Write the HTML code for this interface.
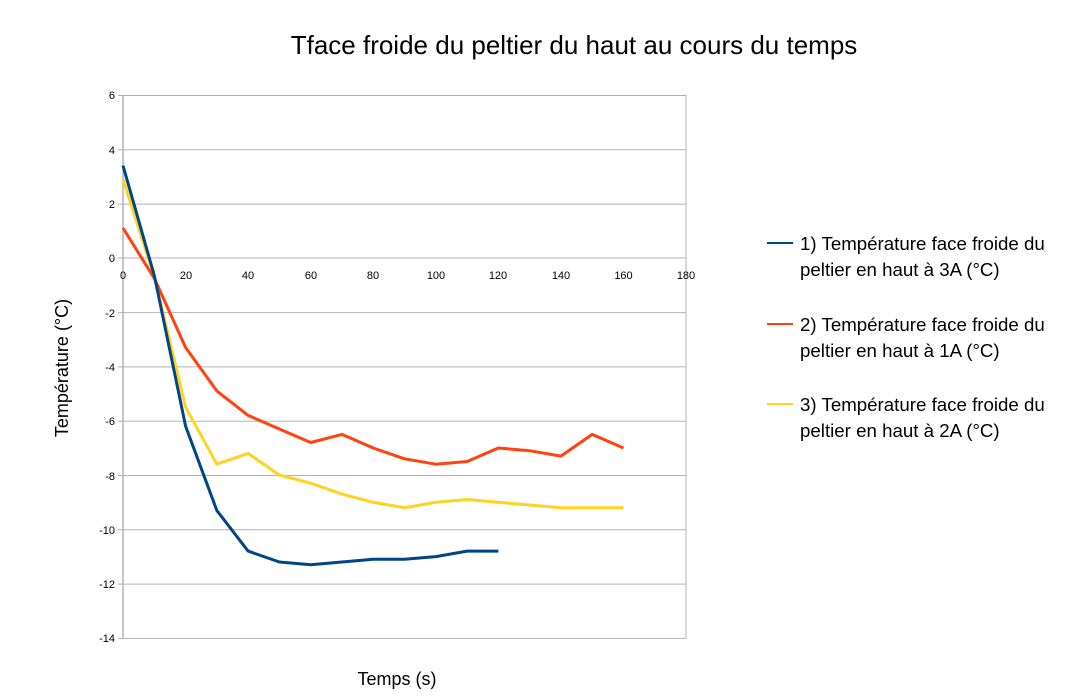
<!DOCTYPE html>
<html><head><meta charset="utf-8"><style>body{margin:0;background:#fff}svg{display:block}text{font-family:"Liberation Sans",sans-serif}</style></head>
<body>
<svg width="1085" height="700" xmlns="http://www.w3.org/2000/svg">
<rect width="1085" height="700" fill="#fff"/>
<text x="574" y="54" font-size="26" text-anchor="middle" fill="#000">Tface froide du peltier du haut au cours du temps</text>
<g stroke="#b3b3b3" stroke-width="1">
<line x1="118" y1="95.5" x2="686" y2="95.5"/>
<line x1="118" y1="149.8" x2="686" y2="149.8"/>
<line x1="118" y1="204.1" x2="686" y2="204.1"/>
<line x1="118" y1="258" x2="686" y2="258"/>
<line x1="118" y1="312.6" x2="686" y2="312.6"/>
<line x1="118" y1="366.9" x2="686" y2="366.9"/>
<line x1="118" y1="421.2" x2="686" y2="421.2"/>
<line x1="118" y1="475.5" x2="686" y2="475.5"/>
<line x1="118" y1="529.8" x2="686" y2="529.8"/>
<line x1="118" y1="584.1" x2="686" y2="584.1"/>
<line x1="118" y1="638.4" x2="686" y2="638.4"/>
<line x1="686" y1="95" x2="686" y2="638.4"/>
<line x1="123" y1="95" x2="123" y2="638.4" stroke-width="1.5"/>
</g>
<g font-size="11" text-anchor="end" fill="#000">
<text x="115" y="99">6</text><text x="115" y="154">4</text><text x="115" y="208">2</text><text x="115" y="262">0</text>
<text x="115" y="317">-2</text><text x="115" y="371">-4</text><text x="115" y="425">-6</text><text x="115" y="480">-8</text>
<text x="115" y="534">-10</text><text x="115" y="588">-12</text><text x="115" y="642">-14</text>
</g>
<g font-size="11" text-anchor="middle" fill="#000">
<text x="123" y="279">0</text><text x="186" y="279">20</text><text x="248" y="279">40</text><text x="311" y="279">60</text>
<text x="373" y="279">80</text><text x="436" y="279">100</text><text x="498" y="279">120</text><text x="561" y="279">140</text>
<text x="623.5" y="279">160</text><text x="686" y="279">180</text>
</g>
<g fill="none" stroke-width="3" stroke-linejoin="round">
<polyline stroke="#ffd320" points="123,179.2 154.3,276.9 185.6,407.2 216.8,464.2 248.1,453.4 279.4,475.1 310.7,483.2 342,494.1 373.2,502.3 404.5,507.7 435.8,502.3 467.1,499.5 498.4,502.3 529.6,505 560.9,507.7 592.2,507.7 623.5,507.7"/>
<polyline stroke="#ff420e" points="123,228 154.3,278.3 185.6,347.5 216.8,390.9 248.1,415.4 279.4,429 310.7,442.5 342,434.4 373.2,448 404.5,458.8 435.8,464.2 467.1,461.5 498.4,448 529.6,450.7 560.9,456.1 592.2,434.4 623.5,448"/>
<polyline stroke="#004586" points="123,165.6 154.3,275.5 185.6,426.2 216.8,510.4 248.1,551.1 279.4,562 310.7,564.7 342,562 373.2,559.3 404.5,559.3 435.8,556.6 467.1,551.1 498.4,551.1"/>
</g>
<text x="397" y="685" font-size="18" text-anchor="middle">Temps (s)</text>
<text transform="translate(68,368) rotate(-90)" font-size="18" text-anchor="middle">Température (°C)</text>
<g font-size="18.7" fill="#000">
<line x1="767" y1="243" x2="793" y2="243" stroke="#004586" stroke-width="2"/>
<text x="800" y="250">1) Température face froide du</text>
<text x="800" y="276">peltier en haut à 3A (°C)</text>
<line x1="767" y1="324" x2="793" y2="324" stroke="#ff420e" stroke-width="2"/>
<text x="800" y="331">2) Température face froide du</text>
<text x="800" y="357">peltier en haut à 1A (°C)</text>
<line x1="767" y1="404" x2="793" y2="404" stroke="#ffd320" stroke-width="2"/>
<text x="800" y="411">3) Température face froide du</text>
<text x="800" y="437">peltier en haut à 2A (°C)</text>
</g>
</svg>
</body></html>
